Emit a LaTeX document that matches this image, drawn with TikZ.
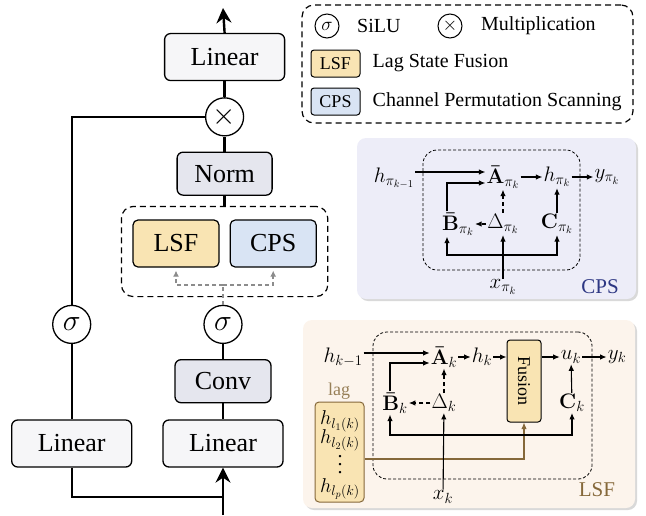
\documentclass[tikz,border=0pt]{standalone}
\usepackage{fix-cm}
\usepackage[no-math]{fontspec}
\setmainfont{Liberation Serif}
\usepackage{amsmath}
\usetikzlibrary{positioning, calc, fit, shadows, arrows.meta}

\definecolor{linfill}{HTML}{F6F6F8}
\definecolor{normfill}{HTML}{E5E6EE}
\definecolor{lsfyellow}{HTML}{F9E4B3}
\definecolor{cpsblue}{HTML}{D9E4F4}
\definecolor{cpspanel}{HTML}{EDEDF8}
\definecolor{lsfpanel}{HTML}{FCF4EC}
\definecolor{lagbrown}{HTML}{85683A}
\definecolor{cpsnavy}{HTML}{2D3783}

% widely spaced vertical dots for the lag list
\newcommand{\lagdots}{\vbox{\baselineskip=8pt\lineskiplimit=0pt\hbox{.}\hbox{.}\hbox{.}}}
\newcommand{\bbar}[1]{\boldsymbol{\bar{\mathbf{#1}}}}

\begin{document}
\begin{tikzpicture}[
        x=1pt, y=-1pt,
        node distance=15pt,
        block/.style={
            rectangle, draw, rounded corners=6pt, line width=1.3pt,
            fill=linfill, minimum width=120pt, minimum height=47pt,
            font=\fontsize{26}{30}\selectfont
        },
        op/.style={
            circle, draw, line width=1.3pt, fill=white, inner sep=0pt,
            minimum size=38pt, font=\fontsize{30}{34}\selectfont
        },
        keyop/.style={op, line width=1pt, minimum size=24pt, font=\fontsize{19}{22}\selectfont},
        ssmbox/.style={
            rectangle, draw, rounded corners=5pt, line width=1.2pt,
            minimum width=86pt, minimum height=47pt,
            font=\fontsize{26}{30}\selectfont
        },
        tag/.style={
            rectangle, draw, rounded corners=3pt, line width=1pt,
            minimum width=49pt, minimum height=27pt, font=\fontsize{18}{20}\selectfont
        },
        group/.style={draw, dash pattern=on 6pt off 4pt, rounded corners=12pt, line width=1.2pt, inner sep=0pt},
        scan/.style={draw, dash pattern=on 3pt off 2pt, rounded corners=14pt, line width=0.8pt, inner sep=0pt},
        panel/.style={rounded corners=9pt, inner sep=0pt, drop shadow={shadow xshift=2pt, shadow yshift=-2pt, opacity=0.3}},
        keytext/.style={inner sep=0pt, anchor=west, font=\fontsize{20}{24}\selectfont},
        var/.style={inner sep=1pt, font=\fontsize{21}{24}\selectfont},
        lagvar/.style={inner sep=0pt, font=\fontsize{20}{24}\selectfont},
        label/.style={inner sep=0pt, font=\fontsize{21}{24}\selectfont},
        main/.style={line width=2.4pt},
        flow/.style={line width=1.1pt},
        hint/.style={line width=1.5pt, draw=black!45, dash pattern=on 4pt off 3pt},
        >={Latex[length=6.5pt, width=5.5pt]},
    ]
    \useasboundingbox (0,0) rectangle (646,515);

    % Main block
    \node [block] (lin-r) at (223,443.5) {Linear};
    \node [block, left=30pt of lin-r] (lin-l) {Linear};
    \node [block, fill=normfill, minimum width=96pt, minimum height=43pt, above=16pt of lin-r] (conv) {Conv};
    \node [op, above=15pt of conv] (sig-r) {$\sigma$};
    \node [op] (sig-l) at (lin-l |- sig-r) {$\sigma$};

    \node [ssmbox, fill=lsfyellow] (lsf) at (176,243.5) {LSF};
    \node [ssmbox, fill=cpsblue, right=10pt of lsf] (cps) {CPS};
    \coordinate (ssm-nw) at ($(lsf.north west)+(-11,-13)$);
    \coordinate (ssm-se) at ($(cps.south east)+(11,29)$);
    \node [group, fit=(ssm-nw)(ssm-se)] (ssm) {};

    \node [block, fill=normfill, minimum width=95pt, minimum height=43pt, above=10pt of ssm] (norm) {Norm};
    \node [op, above=15pt of norm] (mul) {$\times$};
    \node [block, above=16pt of mul] (lin-t) {Linear};

    \coordinate (out) at (223,8);
    \coordinate (in) at (223,515);
    \coordinate (merge) at (223,497);
    \coordinate (fork) at (223,285);

    % Main arrows
    \draw [main, -{Stealth[length=15pt, width=15pt, inset=5pt]}] (lin-t.north) -- (out);
    \draw [main] (mul) -- (lin-t);
    \draw [main] (norm) -- (mul);
    \draw [main] (ssm) -- (norm);
    \draw [main] (sig-r) -- (conv);
    \draw [main] (conv) -- (lin-r);
    \draw [main, -{Stealth[length=15pt, width=15pt, inset=5pt]}] (in) -- (lin-r.south);
    \draw [main] (lin-l.south) |- (merge);
    \draw [main] (lin-l) -- (sig-l);
    \draw [main] (sig-l) |- (mul);

    \draw [hint] (sig-r) -- (fork);
    \draw [hint, -{Latex[length=6pt, width=6pt]}, shorten >=3pt] (fork) -| (lsf);
    \draw [hint, -{Latex[length=6pt, width=6pt]}, shorten >=3pt] (fork) -| (cps);

    % Legend
    \node [group, fit={(302,5) (633,123)}] (legend) {};
    \node [keyop] (key-sig) at (327,26) {$\sigma$};
    \node [keytext] (key-silu) at (357,26) {SiLU};
    \node [keyop] (key-mul) at (450,26) {$\times$};
    \node [keytext] (key-mult) at (481,26) {Multiplication};
    \node [tag, fill=lsfyellow] (key-lsf) at (335.5,63.5) {LSF};
    \node [keytext, right=12pt of key-lsf] (key-lsf-text) {Lag State Fusion};
    \node [tag, fill=cpsblue] (key-cps) at (335.5,101.5) {CPS};
    \node [keytext, right=12pt of key-cps] (key-cps-text) {Channel Permutation Scanning};

    % CPS panel
    \node [panel, fill=cpspanel, fit={(357,138) (636,299)}] (cps-panel) {};
    \node [scan, fit={(423,150) (580,270)}] (cps-scan) {};
    \node [var] (cps-hin) at (394,178) {$h_{\pi_{k-1}}$};
    \node [var] (cps-a) at (503,177) {$\bbar{A}_{\pi_k}$};
    \node [var] (cps-h) at (557,177) {$h_{\pi_k}$};
    \node [var] (cps-y) at (607,177) {$y_{\pi_k}$};
    \node [var] (cps-b) at (458,224) {$\bbar{B}_{\pi_k}$};
    \node [var] (cps-d) at (503,224) {$\Delta_{\pi_k}$};
    \node [var] (cps-c) at (557,224) {$\mathbf{C}_{\pi_k}$};
    \node [var] (cps-x) at (503,287) {$x_{\pi_k}$};
    \node [label, text=cpsnavy] (cps-name) at (600,287) {CPS};

    \coordinate (cps-a-top) at ([yshift=5pt]cps-a.west);
    \coordinate (cps-a-bot) at ([yshift=-6pt]cps-a.west);
    \coordinate (cps-bus) at (503,255);
    \draw [flow, ->] (cps-hin.east |- cps-a-top) -- (cps-a-top);
    \draw [flow, ->] ([xshift=-11pt]cps-b.north) |- (cps-a-bot);
    \draw [flow, ->, dash pattern=on 4pt off 3pt] (cps-d) -- (cps-a);
    \draw [flow, ->, dash pattern=on 4pt off 3pt] (cps-d) -- (cps-b);
    \draw [flow, ->] (cps-a) -- (cps-h);
    \draw [flow, ->] (cps-h) -- (cps-y);
    \draw [flow, ->] (cps-c) -- (cps-h);
    \draw [flow, ->] (cps-x) -- (cps-d);
    \draw [flow, <->] ([xshift=-11pt]cps-b.south) |- (cps-bus) -| (cps-c.south);

    % LSF panel
    \node [panel, fill=lsfpanel, fit={(303,320) (635,508)}] (lsf-panel) {};
    \node [scan, fit={(373,332) (592,479)}] (lsf-scan) {};
    \node [var] (lsf-hin) at (343,357) {$h_{k-1}$};
    \node [var] (lsf-a) at (444,357) {$\bbar{A}_k$};
    \node [var] (lsf-h) at (482,357) {$h_k$};
    % rotated clockwise: west is the top end, east the bottom end
    \node [rectangle, draw, rounded corners=3pt, line width=1pt, fill=lsfyellow,
           rotate=-90, minimum width=82pt, minimum height=34pt,
           font=\fontsize{18}{20}\selectfont] (fusion) at (524,381) {Fusion};
    \node [var] (lsf-u) at (571,357) {$u_k$};
    \node [var] (lsf-y) at (617,357) {$y_k$};
    \node [var] (lsf-b) at (395,403) {$\bbar{B}_k$};
    \node [var] (lsf-d) at (444,403) {$\Delta_k$};
    \node [var] (lsf-c) at (572,403) {$\mathbf{C}_k$};
    \node [var] (lsf-x) at (443,497) {$x_k$};
    \node [label, text=lagbrown] (lsf-name) at (597,490) {LSF};

    \node [label, text=lagbrown!85, font=\fontsize{18}{20}\selectfont] (lag-name) at (339,391) {lag};
    \node [rectangle, draw=lagbrown, rounded corners=4pt, line width=1pt, fill=lsfyellow,
           minimum width=49pt, minimum height=100pt] (lag) at (339.5,452) {};
    \node [lagvar] (lag-1) at (340,421) {$h_{l_1(k)}$};
    \node [lagvar] (lag-2) at (340,440) {$h_{l_2(k)}$};
    \node [lagvar] (lag-dots) at (340,465) {\lagdots};
    \node [lagvar] (lag-p) at (340,489) {$h_{l_p(k)}$};

    \coordinate (lsf-a-top) at ([yshift=4pt]lsf-a.west);
    \coordinate (lsf-a-bot) at ([yshift=-6pt]lsf-a.west);
    \coordinate (lsf-bus) at (443,435);
    \draw [flow, draw=lagbrown, ->] ([yshift=-7pt]lag.east) -| (fusion.east);
    \draw [flow, ->] (lsf-hin.east |- lsf-a-top) -- (lsf-a-top);
    \draw [flow, ->] ([xshift=-5pt]lsf-b.north) |- (lsf-a-bot);
    \draw [flow, ->, dash pattern=on 4pt off 3pt] (lsf-d) -- (lsf-a);
    \draw [flow, ->, dash pattern=on 4pt off 3pt] (lsf-d) -- (lsf-b);
    \draw [flow, ->] (lsf-a) -- (lsf-h);
    \draw [flow, ->] (lsf-h) -- (lsf-h -| fusion.south);
    \draw [flow, ->] (fusion.north |- lsf-u) -- (lsf-u);
    \draw [flow, ->] (lsf-u) -- (lsf-y);
    \draw [flow, ->] (lsf-c) -- (lsf-u);
    \draw [flow, ->] (lsf-x) -- (lsf-d);
    \draw [flow, <->] ([xshift=-5pt]lsf-b.south) |- (lsf-bus) -| (lsf-c.south);
\end{tikzpicture}
\end{document}
